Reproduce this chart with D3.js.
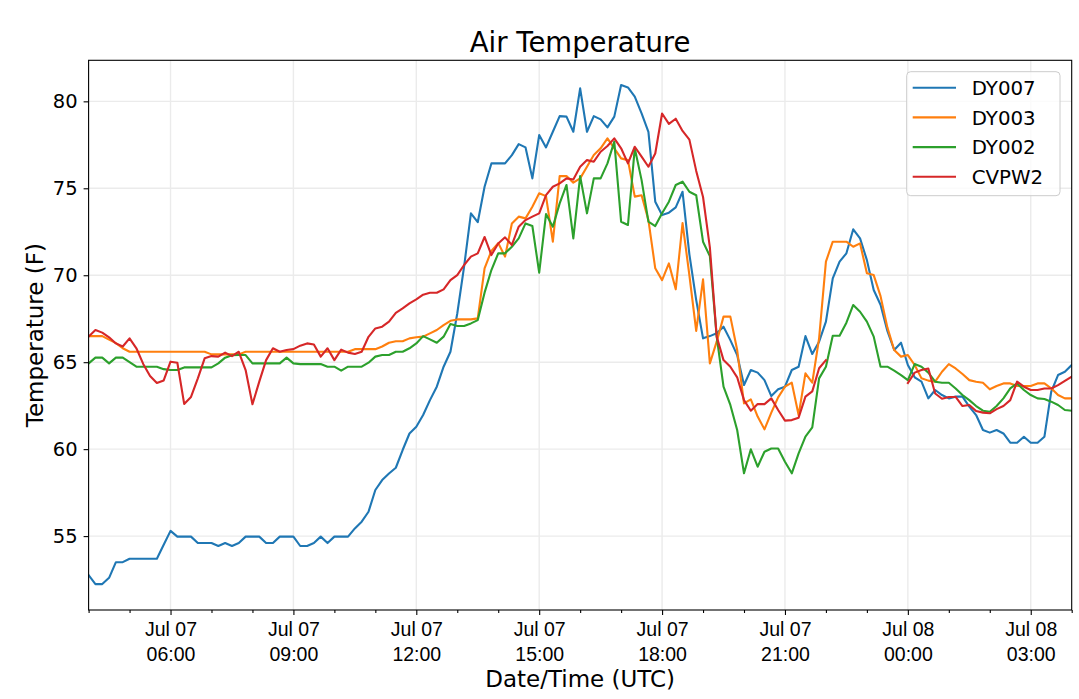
<!DOCTYPE html>
<html>
<head>
<meta charset="utf-8">
<script src="https://cdn.jsdelivr.net/npm/d3@7"></script>
<style>
  html, body { margin: 0; padding: 0; background: #fff; }
  svg { display: block; font-family: "DejaVu Sans", sans-serif; }
</style>
</head>
<body>
<svg id="svg" width="1079" height="699"></svg>
<script>
// 10-minute samples, Jul 07 04:00 UTC to Jul 08 04:00 UTC
const startTime = Date.UTC(2019, 6, 7, 4, 0);
const endTime = Date.UTC(2019, 6, 8, 4, 0);
const times = d3.utcMinute.every(10).range(new Date(startTime), new Date(endTime + 1));

const seriesNames = ["DY007", "DY003", "DY002", "CVPW2"];
const seriesColors = ["#1f77b4", "#ff7f0e", "#2ca02c", "#d62728"];

const dy007 = [
  52.76, 52.24, 52.24, 52.6, 53.5, 53.5, 53.7, 53.7, 53.7, 53.7,
  53.7, 54.5, 55.3, 54.97, 54.97, 54.97, 54.6, 54.6, 54.6, 54.43,
  54.6, 54.43, 54.6, 54.97, 54.97, 54.97, 54.6, 54.6, 54.97, 54.97,
  54.97, 54.43, 54.43, 54.6, 54.97, 54.6, 54.97, 54.97, 54.97, 55.44,
  55.83, 56.4, 57.65, 58.22, 58.6, 58.93, 59.95, 60.9, 61.29, 61.96,
  62.82, 63.59, 64.74, 65.6, 67.8, 70.49, 73.56, 73.05, 75.09, 76.43,
  76.43, 76.43, 76.91, 77.54, 77.35, 75.57, 78.06, 77.35, 78.25, 79.15,
  79.12, 78.25, 80.75, 78.25, 79.15, 78.96, 78.5, 79.12, 80.94, 80.8,
  80.27, 79.31, 78.25, 74.23, 73.46, 73.6, 73.9, 74.8, 71.2, 68.57,
  66.37, 66.5, 66.66, 67.04, 66.27, 65.41, 63.69, 64.55, 64.4, 63.97,
  63.05, 63.44, 63.59, 64.55, 64.74, 66.5, 65.47, 66.18, 67.33, 69.82,
  70.78, 71.26, 72.64, 72.12, 70.87, 69.15, 68.3, 66.8, 65.7, 66.12,
  64.84, 64.13, 63.88, 62.92, 63.4, 63.11, 62.92, 63.02, 63.02, 62.44,
  61.96, 61.1, 60.95, 61.1, 60.9, 60.37, 60.37, 60.71, 60.37, 60.37,
  60.71, 63.3, 64.26, 64.45, 64.84
];

const dy003 = [
  66.5, 66.5, 66.5, 66.3, 66.1, 65.8, 65.6, 65.6, 65.6, 65.6,
  65.6, 65.6, 65.6, 65.6, 65.6, 65.6, 65.6, 65.6, 65.45, 65.45,
  65.45, 65.45, 65.45, 65.6, 65.6, 65.6, 65.6, 65.6, 65.6, 65.6,
  65.6, 65.6, 65.6, 65.6, 65.6, 65.6, 65.6, 65.6, 65.6, 65.75,
  65.75, 65.75, 65.75, 65.9, 66.12, 66.2, 66.2, 66.37, 66.43, 66.47,
  66.66, 66.85, 67.13, 67.38, 67.46, 67.46, 67.46, 67.52, 70.4, 71.4,
  71.85, 71.07, 72.98, 73.37, 73.27, 73.94, 74.71, 74.55, 71.93, 75.7,
  75.7, 75.32, 75.57, 76.24, 76.91, 77.3, 77.87, 77.3, 76.72, 76.62,
  74.52, 74.6, 73.17, 70.4, 69.72, 70.68, 69.19, 73.0, 70.0, 66.8,
  69.76, 64.93, 66.18, 67.62, 67.62, 65.7, 62.63, 62.86, 61.87, 61.14,
  62.1, 62.98, 63.59, 63.82, 61.96, 64.36, 63.82, 66.37, 70.78, 71.93,
  71.93, 71.93, 71.64, 71.83, 70.11, 70.01, 68.8, 67.0, 65.7, 65.32,
  65.41, 64.84, 64.07, 63.94, 63.88, 64.45, 64.89, 64.64, 64.32, 63.97,
  63.88, 63.82, 63.44, 63.63, 63.78, 63.78, 63.63, 63.63, 63.63, 63.78,
  63.78, 63.5, 63.11, 62.92, 62.92
];

const dy002 = [
  64.93, 65.26, 65.26, 64.93, 65.26, 65.26, 65.0, 64.74, 64.74, 64.74,
  64.74, 64.6, 64.55, 64.55, 64.7, 64.7, 64.7, 64.7, 64.7, 64.93,
  65.26, 65.4, 65.41, 65.41, 64.93, 64.93, 64.93, 64.93, 64.93, 65.26,
  64.93, 64.89, 64.89, 64.89, 64.89, 64.74, 64.74, 64.51, 64.74, 64.74,
  64.74, 64.97, 65.32, 65.41, 65.41, 65.6, 65.6, 65.8, 66.08, 66.5,
  66.31, 66.12, 66.47, 67.19, 67.08, 67.08, 67.23, 67.42, 69.0, 70.3,
  71.26, 71.26, 71.64, 72.12, 72.98, 72.83, 70.15, 73.52, 72.79, 74.13,
  75.19, 72.12, 75.7, 73.56, 75.57, 75.57, 76.43, 77.68, 73.08, 72.89,
  77.3, 75.47, 73.08, 72.83, 73.56, 74.23, 75.19, 75.38, 74.8, 74.6,
  71.93, 71.1, 66.47, 63.59, 62.54, 61.1, 58.61, 59.99, 58.99, 59.85,
  60.04, 60.04, 59.28, 58.61, 59.76, 60.72, 61.25, 64.07, 64.74, 66.52,
  66.52, 67.27, 68.29, 67.9, 67.33, 66.47, 64.74, 64.74, 64.51, 64.26,
  63.97, 64.89, 64.74, 64.4, 63.88, 63.82, 63.82, 63.49, 63.11, 62.82,
  62.48, 62.21, 62.15, 62.48, 62.92, 63.49, 63.78, 63.4, 63.11, 62.92,
  62.88, 62.73, 62.54, 62.25, 62.21
];

const cvpw2 = [
  66.47, 66.85, 66.7, 66.43, 66.08, 65.9, 66.37, 65.8, 64.9, 64.2,
  63.8, 63.95, 65.03, 64.97, 62.6, 63.0, 64.07, 65.22, 65.35, 65.32,
  65.55, 65.35, 65.6, 64.55, 62.58, 63.88, 65.12, 65.8, 65.6, 65.7,
  65.75, 65.95, 66.08, 66.02, 65.32, 65.8, 65.12, 65.72, 65.55, 65.47,
  65.6, 66.46, 66.94, 67.04, 67.33, 67.84, 68.09, 68.38, 68.61, 68.88,
  68.99, 68.99, 69.19, 69.72, 70.01, 70.59, 71.07, 71.26, 72.2, 71.16,
  71.83, 72.18, 71.74, 72.79, 73.17, 73.37, 73.56, 74.61, 75.09, 75.28,
  75.57, 75.51, 76.24, 76.62, 76.53, 77.1, 77.43, 77.87, 77.3, 76.43,
  77.39, 76.82, 76.24, 77.0, 79.3, 78.7, 79.0, 78.3, 77.8, 76.0,
  74.5, 71.6, 66.47, 65.12, 64.74, 64.13, 62.82, 62.21, 62.59, 62.59,
  62.92, 62.25, 61.64, 61.67, 61.81, 63.02, 63.32, 64.65, 65.12, null,
  null, null, null, null, null, null, null, null, null, null,
  63.8, 64.4, 64.55, 64.64, 63.2, 62.9, 63.0, 63.0, 62.48, 62.54,
  62.19, 62.1, 62.06, 62.3, 62.48, 62.82, 63.88, 63.59, 63.4, 63.4,
  63.49, 63.49, 63.68, 63.93, 64.17
];

const seriesValues = [dy007, dy003, dy002, cvpw2];
const yTickValues = [55, 60, 65, 70, 75, 80];

const titleText = "Air Temperature";
const xLabelText = "Date/Time (UTC)";
const yLabelText = "Temperature (F)";

const margin = {left: 88.6, right: 1071.7, top: 60.3, bottom: 610};

const svg = d3.select("#svg");

const x = d3.scaleUtc()
    .domain([new Date(startTime), new Date(endTime)])
    .range([margin.left, margin.right]);

const y = d3.scaleLinear()
    .domain([50.75, 82.36])
    .range([margin.bottom, margin.top]);

const majorTicks = d3.utcHour.every(3).range(new Date(startTime), new Date(endTime + 1));
const minorTicks = d3.utcHour.every(1).range(new Date(startTime), new Date(endTime + 1))
    .filter(d => d.getUTCHours() % 3 !== 0);

// grid
const grid = svg.append("g").attr("stroke", "#ebebeb").attr("stroke-width", 1.4);
grid.selectAll("line.gx").data(majorTicks).enter().append("line")
    .attr("x1", d => x(d)).attr("x2", d => x(d))
    .attr("y1", margin.top).attr("y2", margin.bottom);
grid.selectAll("line.gy").data(yTickValues).enter().append("line")
    .attr("x1", margin.left).attr("x2", margin.right)
    .attr("y1", d => y(d)).attr("y2", d => y(d));

// lines
const line = d3.line()
    .defined(d => d[1] != null)
    .x(d => x(d[0]))
    .y(d => y(d[1]));

svg.append("defs").append("clipPath").attr("id", "clip")
    .append("rect")
    .attr("x", margin.left).attr("y", margin.top)
    .attr("width", margin.right - margin.left)
    .attr("height", margin.bottom - margin.top);

svg.append("g").attr("clip-path", "url(#clip)")
    .selectAll("path.series")
    .data(seriesValues)
    .enter()
    .append("path")
    .attr("class", "series")
    .attr("fill", "none")
    .attr("stroke", (d, i) => seriesColors[i])
    .attr("stroke-width", 2.1)
    .attr("stroke-linejoin", "round")
    .attr("stroke-linecap", "square")
    .attr("d", values => line(values.map((v, i) => [times[i], v])));

// x axis
const fmtDay = d3.utcFormat("%b %d");
const fmtTime = d3.utcFormat("%H:%M");

const xAxis = svg.append("g")
    .attr("transform", `translate(0,${margin.bottom})`)
    .call(d3.axisBottom(x).tickValues(majorTicks).tickSize(5).tickPadding(8).tickFormat(""));

xAxis.append("g")
    .call(d3.axisBottom(x).tickValues(minorTicks).tickSize(3).tickFormat(""))
    .select(".domain").remove();

xAxis.selectAll(".tick text").remove();
xAxis.selectAll(".tick")
    .filter(d => majorTicks.some(m => +m === +d) && +d !== startTime && +d !== endTime)
    .append("text")
    .attr("fill", "#000")
    .attr("font-size", 19.5)
    .attr("text-anchor", "middle")
    .call(t => t.append("tspan").attr("x", 0).attr("y", 26).text(d => fmtDay(d)))
    .call(t => t.append("tspan").attr("x", 0).attr("y", 50.5).text(d => fmtTime(d)));

// y axis
const yAxis = svg.append("g")
    .attr("transform", `translate(${margin.left},0)`)
    .call(d3.axisLeft(y).tickValues(yTickValues).tickSize(5).tickPadding(6));
yAxis.selectAll(".tick text")
    .attr("fill", "#000")
    .attr("font-size", 19.5)
    .attr("font-family", "DejaVu Sans");

svg.selectAll(".domain").remove();
svg.selectAll(".tick line").attr("stroke", "#000").attr("stroke-width", 1.1);

// frame
svg.append("rect")
    .attr("x", margin.left).attr("y", margin.top)
    .attr("width", margin.right - margin.left)
    .attr("height", margin.bottom - margin.top)
    .attr("fill", "none")
    .attr("stroke", "#000")
    .attr("stroke-width", 1.1);

// titles
svg.append("text")
    .attr("x", (margin.left + margin.right) / 2)
    .attr("y", 52)
    .attr("text-anchor", "middle")
    .attr("font-size", 27.5)
    .attr("fill", "#000")
    .text(titleText);

svg.append("text")
    .attr("x", (margin.left + margin.right) / 2)
    .attr("y", 687)
    .attr("text-anchor", "middle")
    .attr("font-size", 23)
    .attr("fill", "#000")
    .text(xLabelText);

svg.append("text")
    .attr("transform", `translate(43,${(margin.top + margin.bottom) / 2}) rotate(-90)`)
    .attr("text-anchor", "middle")
    .attr("font-size", 23)
    .attr("fill", "#000")
    .text(yLabelText);

// legend
const legend = svg.append("g");
legend.append("rect")
    .attr("x", 906.7).attr("y", 71.7)
    .attr("width", 153.3).attr("height", 124)
    .attr("rx", 4)
    .attr("fill", "#fff").attr("fill-opacity", 0.8)
    .attr("stroke", "#cccccc").attr("stroke-width", 1);

const rows = legend.selectAll("g.row")
    .data(seriesNames)
    .enter()
    .append("g")
    .attr("transform", (d, i) => `translate(0,${87.7 + i * 29.7})`);

rows.append("line")
    .attr("x1", 912.7).attr("x2", 956)
    .attr("stroke", (d, i) => seriesColors[i])
    .attr("stroke-width", 2.1);

rows.append("text")
    .attr("x", 971.7)
    .attr("y", 7.3)
    .attr("font-size", 19.8)
    .attr("fill", "#000")
    .text(d => d);
</script>
</body>
</html>
